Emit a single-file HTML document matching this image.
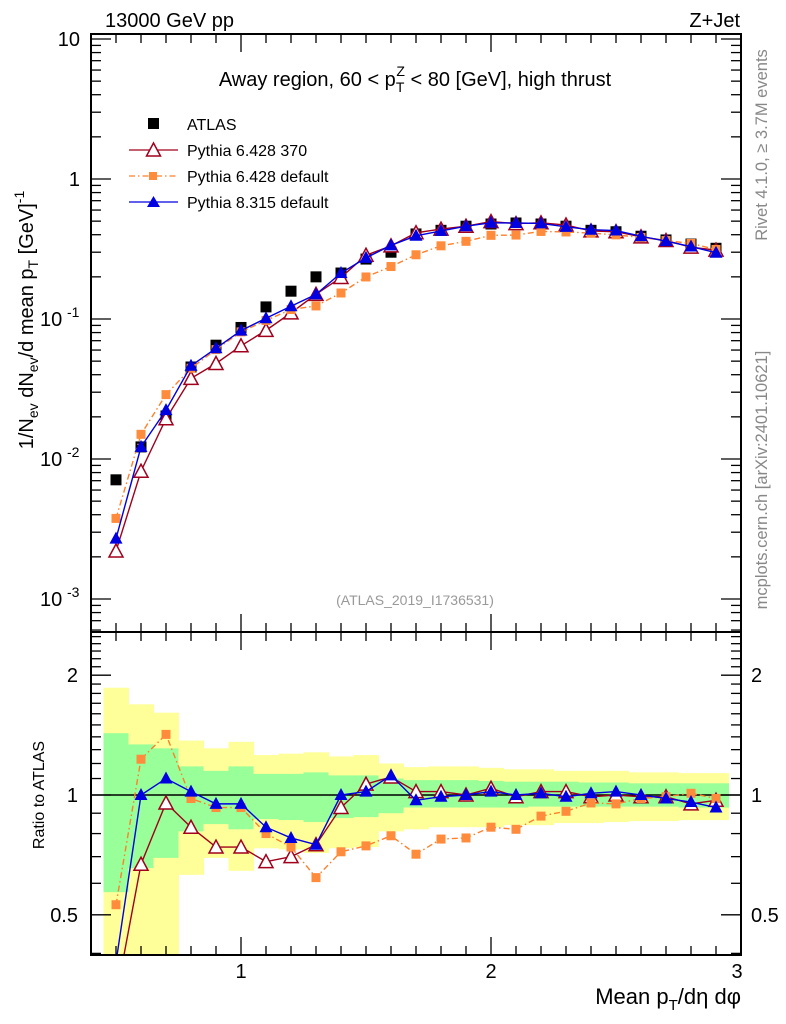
<!DOCTYPE html>
<html><head><meta charset="utf-8"><style>
html,body{margin:0;padding:0;background:#fff;}
svg{display:block;font-family:"Liberation Sans",Arial,sans-serif;}
</style></head><body>
<svg id="chart" width="786" height="1024" viewBox="0 0 786 1024" xmlns="http://www.w3.org/2000/svg">
<g id="bands"></g>
<g id="marks"></g>
<g id="axes"></g>
<text x="105" y="27" font-size="20">13000 GeV pp</text>
<text x="740" y="27" font-size="20" text-anchor="end">Z+Jet</text>
<text x="415" y="86" font-size="20" text-anchor="middle">Away region, 60 &lt; p<tspan font-size="14" dy="6">T</tspan><tspan font-size="14" dx="-8" dy="-16">Z</tspan><tspan dy="10"> &lt; 80 [GeV], high thrust</tspan></text>
<g font-size="16">
<rect x="148" y="118" width="11" height="11" fill="#000"/>
<text x="187" y="130">ATLAS</text>
<line x1="129" y1="150" x2="178" y2="150" stroke="#a0001c" stroke-width="1.3"/>
<polygon points="153.5,143 146.5,156 160.5,156" fill="#fff" stroke="#a0001c" stroke-width="1.5"/>
<text x="187" y="156">Pythia 6.428 370</text>
<line x1="129" y1="176" x2="178" y2="176" stroke="#ff7f2a" stroke-width="1.3" stroke-dasharray="6,3,1.5,3"/>
<rect x="149" y="172" width="8" height="8" fill="#ff8c3c"/>
<text x="187" y="182">Pythia 6.428 default</text>
<line x1="129" y1="202" x2="178" y2="202" stroke="#0000e0" stroke-width="1.3"/>
<polygon points="153.5,196 147,207 160,207" fill="#0000e0"/>
<text x="187" y="208">Pythia 8.315 default</text>
</g>
<text x="415" y="605" font-size="14" fill="#999" text-anchor="middle">(ATLAS_2019_I1736531)</text>
<text transform="translate(767,145) rotate(-90)" font-size="16.5" fill="#888" text-anchor="middle">Rivet 4.1.0, ≥ 3.7M events</text>
<text transform="translate(767,480) rotate(-90)" font-size="16.5" fill="#888" text-anchor="middle">mcplots.cern.ch [arXiv:2401.10621]</text>
<text transform="translate(33,320) rotate(-90)" font-size="20" text-anchor="middle">1/N<tspan font-size="14" dy="5">ev</tspan><tspan dy="-5"> dN</tspan><tspan font-size="14" dy="5">ev</tspan><tspan dy="-5">/d mean p</tspan><tspan font-size="14" dy="5">T</tspan><tspan dy="-5"> [GeV]</tspan><tspan font-size="14" dy="-9">-1</tspan></text>
<text transform="translate(44,795) rotate(-90)" font-size="16" text-anchor="middle">Ratio to ATLAS</text>
<text x="741" y="1004" font-size="22" text-anchor="end">Mean p<tspan font-size="15" dy="6">T</tspan><tspan dy="-6">/dη dφ</tspan></text>
</svg>
<script>
const xs=[0.5,0.6,0.7,0.8,0.9,1.0,1.1,1.2,1.3,1.4,1.5,1.6,1.7,1.8,1.9,2.0,2.1,2.2,2.3,2.4,2.5,2.6,2.7,2.8,2.9];
const atlas=[0.0071,0.0122,0.0203,0.0454,0.065,0.087,0.122,0.158,0.2,0.213,0.268,0.30,0.405,0.43,0.46,0.477,0.485,0.477,0.46,0.43,0.42,0.39,0.367,0.343,0.32];
const ratioPy6_370=[0.31,0.67,0.955,0.83,0.74,0.74,0.68,0.70,0.75,0.93,1.065,1.11,1.02,1.02,1.0,1.04,0.99,1.02,1.02,0.99,1.0,0.99,0.99,0.95,0.97];
const ratioPy6_def=[0.53,1.23,1.42,0.98,0.93,0.93,0.80,0.74,0.62,0.72,0.745,0.79,0.71,0.775,0.78,0.83,0.82,0.885,0.91,0.955,0.95,0.98,0.99,1.01,0.98];
const ratioPy8=[0.38,1.0,1.10,1.02,0.95,0.95,0.83,0.78,0.75,1.0,1.02,1.12,0.97,0.99,1.0,1.02,1.0,1.01,0.99,1.01,1.02,1.0,0.98,0.96,0.93];
const yellowUp=[1.86,1.69,1.61,1.37,1.31,1.36,1.26,1.27,1.28,1.25,1.26,1.20,1.175,1.18,1.18,1.17,1.16,1.16,1.15,1.15,1.15,1.14,1.14,1.135,1.135];
const yellowDn=[0.35,0.35,0.35,0.63,0.695,0.645,0.735,0.73,0.715,0.735,0.74,0.81,0.82,0.83,0.83,0.83,0.84,0.84,0.85,0.85,0.855,0.86,0.86,0.865,0.865];
const greenUp=[1.43,1.34,1.31,1.18,1.15,1.18,1.13,1.13,1.14,1.12,1.12,1.10,1.09,1.09,1.09,1.085,1.08,1.08,1.08,1.075,1.075,1.07,1.07,1.07,1.07];
const greenDn=[0.57,0.655,0.695,0.81,0.845,0.82,0.87,0.865,0.855,0.875,0.88,0.90,0.93,0.93,0.93,0.93,0.93,0.935,0.935,0.935,0.935,0.935,0.935,0.93,0.93];
const xTicks=[1,2,3];
const mainTicks=[10,1,0.1,0.01,0.001];
const ratioTicks=[2,1,0.5];

const NS='http://www.w3.org/2000/svg';
const L=91,R=741,T=34,MID=632,B=955;
const X=v=>L+(v-0.4)*250;
const Ym=v=>179-140*Math.log10(v);
const Yr=v=>{let y=795-398*Math.log10(v);return Math.max(MID,Math.min(B,y));};
function mk(tag,parent,attrs){const e=document.createElementNS(NS,tag);for(const k in attrs)e.setAttribute(k,attrs[k]);document.getElementById(parent).appendChild(e);return e;}

xs.forEach((x,i)=>{
  const a=mk('rect','bands',{x:X(x-0.05),y:Yr(yellowUp[i]),width:X(x+0.05)-X(x-0.05)+0.5,height:Yr(yellowDn[i])-Yr(yellowUp[i]),fill:'#ffff99'});
  
  
  const g=mk('rect','bands',{x:X(x-0.05),y:Yr(greenUp[i]),width:X(x+0.05)-X(x-0.05)+0.5,height:Yr(greenDn[i])-Yr(greenUp[i]),fill:'#99ff99'});
  
  
});
const one=mk('line','bands',{x1:L,x2:R,y1:Yr(1),y2:Yr(1),stroke:'#000','stroke-width':1.5});



const series=[
 {name:'py6-370',r:ratioPy6_370,color:'#a0001c',dash:'',mark:'otri'},
 {name:'py6-default',r:ratioPy6_def,color:'#ff7f2a',dash:'6,3,1.5,3',mark:'sq'},
 {name:'py8-default',r:ratioPy8,color:'#0000e0',dash:'',mark:'tri'}];
function marker(kind,cx,cy,color,name){
  let e;
  if(kind==='sq') e=mk('rect','marks',{x:cx-4.5,y:cy-4.5,width:9,height:9,fill:'#ff8c3c'});
  else if(kind==='tri') e=mk('polygon','marks',{points:`${cx},${cy-7} ${cx-6.5},${cy+5} ${cx+6.5},${cy+5}`,fill:color});
  else e=mk('polygon','marks',{points:`${cx},${cy-7} ${cx-7},${cy+6} ${cx+7},${cy+6}`,fill:'#fff',stroke:color,'stroke-width':1.5});
  
  
}
const defs=mk('defs','marks',{});
const cp1=document.createElementNS(NS,'clipPath');cp1.setAttribute('id','cm');defs.appendChild(cp1);
const r1=document.createElementNS(NS,'rect');r1.setAttribute('x',L);r1.setAttribute('y',T);r1.setAttribute('width',R-L);r1.setAttribute('height',MID-T);cp1.appendChild(r1);
const cp2=document.createElementNS(NS,'clipPath');cp2.setAttribute('id','cr');defs.appendChild(cp2);
const r2=document.createElementNS(NS,'rect');r2.setAttribute('x',L);r2.setAttribute('y',MID);r2.setAttribute('width',R-L);r2.setAttribute('height',B-MID);cp2.appendChild(r2);

xs.forEach((x,i)=>{
  const e=mk('rect','marks',{x:X(x)-5.5,y:Ym(atlas[i])-5.5,width:11,height:11,fill:'#000'});
  
  
});
series.forEach(s=>{
  const mv=xs.map((x,i)=>atlas[i]*s.r[i]);
  const pl=mk('polyline','marks',{points:xs.map((x,i)=>X(x)+','+Ym(mv[i])).join(' '),fill:'none',stroke:s.color,'stroke-width':1.4,'stroke-dasharray':s.dash,'clip-path':'url(#cm)'});
  
  
  xs.forEach((x,i)=>marker(s.mark,X(x),Ym(mv[i]),s.color,s.name+'-main-point'));
  const rl=mk('polyline','marks',{points:xs.map((x,i)=>X(x)+','+(795-398*Math.log10(s.r[i]))).join(' '),fill:'none',stroke:s.color,'stroke-width':1.4,'stroke-dasharray':s.dash,'clip-path':'url(#cr)'});
  
  
  xs.forEach((x,i)=>{const y=795-398*Math.log10(s.r[i]);if(y<=B-4&&y>=MID)marker(s.mark,X(x),y,s.color,s.name+'-ratio-point');});
});

['main','ratio'].forEach((p,k)=>{
  const f=mk('rect','axes',{x:L,y:k?MID:T,width:R-L,height:k?B-MID:MID-T,fill:'none',stroke:'#000','stroke-width':2});
  
  
});
function tk(x1,y1,x2,y2){mk('line','axes',{x1,y1,x2,y2,stroke:'#000','stroke-width':1.3});}
function txt(x,y,s,anchor,size){const e=mk('text','axes',{x,y,'font-size':size||20,'text-anchor':anchor});e.textContent=s;return e;}
for(let v=0.5;v<=2.95;v+=0.1){
  const major=Math.abs(v-Math.round(v))<1e-6;const x=X(v);const len=major?18:9;
  tk(x,T,x,T+len);tk(x,MID,x,MID-len);tk(x,MID,x,MID+len);tk(x,B,x,B-len);
}
xTicks.forEach(v=>txt(X(v)+(v===3?-4:0),978,String(v),'middle',20));
for(let d=-4;d<=1;d++){for(let m=1;m<=9;m++){const v=m*Math.pow(10,d);const y=Ym(v);if(y<T||y>MID)continue;const len=m===1?20:10;tk(L,y,L+len,y);tk(R,y,R-len,y);}}
mainTicks.forEach(v=>{const y=Ym(v)+7;
  if(v===10)txt(80,y,'10','end');else if(v===1)txt(80,y,'1','end');
  else{const e=txt(68,y,'10','end');const s=mk('tspan','axes',{'font-size':14,dy:-9,x:67});
    s.textContent=String(Math.round(Math.log10(v)));e.setAttribute('text-anchor','start');e.setAttribute('x',40);e.appendChild(s);}});
for(let v=0.4;v<=2.6;v+=0.1){const y=795-398*Math.log10(v);if(y<MID||y>B)continue;const major=[0.5,1,2].some(t=>Math.abs(t-v)<1e-6);const len=major?20:10;tk(L,y,L+len,y);tk(R,y,R-len,y);}
ratioTicks.forEach(v=>{const y=Yr(v)+7;const s=v===0.5?'0.5':String(v);txt(78,y,s,'end');txt(751,y,s,'start');});
</script>
</body></html>
